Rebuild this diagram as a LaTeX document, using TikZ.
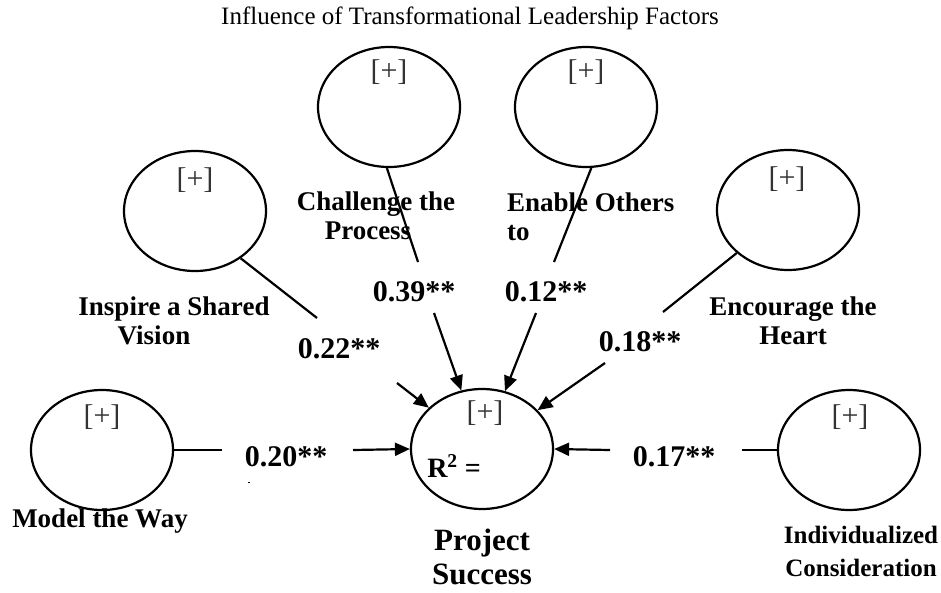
\documentclass[tikz,border=0pt]{standalone}
\usepackage{fontspec}
\setmainfont{Liberation Serif}
\usetikzlibrary{shapes.geometric,arrows.meta}
\begin{document}
\begin{tikzpicture}[x=1pt,y=-1pt,
  lv/.style={ellipse, draw, line width=2.2pt, minimum width=142pt, minimum height=120pt, inner sep=0pt},
  plus/.style={font=\fontsize{30}{30}\selectfont, text=black!80, inner sep=0pt},
  lab/.style={font=\bfseries\fontsize{27}{29}\selectfont, align=center, inner sep=0pt},
  coef/.style={font=\bfseries\fontsize{30}{30}\selectfont, inner sep=0pt},
  conn/.style={line width=2.2pt},
  arr/.style={conn, -{Triangle[length=15pt,width=13pt]}}]
\useasboundingbox (0,0) rectangle (941,592);

% title
\node[font=\fontsize{25}{25}\selectfont] (title) at (470,18) {Influence of Transformational Leadership Factors};

% latent variables
\node[lv] (model) at (102,450) {};
\node[lv] (insp)  at (195,211) {};
\node[lv] (chal)  at (389,107) {};
\node[lv] (enab)  at (586,107) {};
\node[lv] (enc)   at (788,210) {};
\node[lv] (ind)   at (849,450) {};
\node[lv] (proj)  at (482,449) {};

% [+] markers
\node[plus] (pmodel) at (102,417) {[+]};
\node[plus] (pinsp)  at (195,180) {[+]};
\node[plus] (pchal)  at (389,72) {[+]};
\node[plus] (penab)  at (586,72) {[+]};
\node[plus] (penc)   at (787,179) {[+]};
\node[plus] (pind)   at (850,417) {[+]};
\node[plus] (pproj)  at (485,413) {[+]};
\node[font=\bfseries\fontsize{28}{28}\selectfont, inner sep=0pt] (r2) at (454,466) {R\textsuperscript{2} =};

% labels
\node[lab] (lmodel) at (100,521) {Model the Way};
\node[lab] (linsp)  at (174,321) {Inspire a Shared\\Vision\hspace*{40pt}};
\node[lab] (lchal)  at (376,216) {Challenge the\\Process\hspace*{16pt}};
\node[lab, align=left, anchor=west] (lenab) at (507,217) {Enable Others\\to};
\node[lab] (lenc)   at (793,321) {Encourage the\\Heart};
\node[font=\bfseries\fontsize{25}{33}\selectfont, align=center, inner sep=0pt] (lind) at (861,551) {Individualized\\Consideration};
\node[font=\bfseries\fontsize{31}{34}\selectfont, align=center, inner sep=0pt] (lproj) at (482,557) {Project\\Success};

% coefficients
\node[coef] (c20) at (286,457) {0.20**};
\node[coef] (c17) at (674,457) {0.17**};
\node[coef] (c22) at (339,349) {0.22**};
\node[coef] (c39) at (414,292) {0.39**};
\node[coef] (c12) at (546,292) {0.12**};
\node[coef] (c18) at (640,342) {0.18**};

% break points
\coordinate (m1) at (222,450); \coordinate (m2) at (353,450);
\coordinate (i1) at (742,450); \coordinate (i2) at (610,450);
\coordinate (s1) at (317,318); \coordinate (s2) at (397,383);
\coordinate (h1) at (418,262); \coordinate (h2) at (434,313);
\coordinate (e1) at (554,262); \coordinate (e2) at (536,313);
\coordinate (g1) at (663,312); \coordinate (g2) at (605,363);

% connectors
\draw[conn] (model.east) -- (m1);
\draw[arr]  (m2) -- (proj.west);
\draw[conn] (ind.west) -- (i1);
\draw[arr]  (i2) -- (proj.east);
\draw[conn] (insp.-46) -- (s1);
\draw[arr]  (s2) -- (proj);
\draw[conn] (chal.-92) -- (h1);
\draw[arr]  (h2) -- (proj);
\draw[conn] (enab.-85) -- (e1);
\draw[arr]  (e2) -- (proj);
\draw[conn] (enc.-140) -- (g1);
\draw[arr]  (g2) -- (proj);

% small mark below 0.20**
\coordinate (t1) at (248,482); \coordinate (t2) at (250,482);
\draw[line width=1pt] (t1) -- (t2);
\end{tikzpicture}
\end{document}
